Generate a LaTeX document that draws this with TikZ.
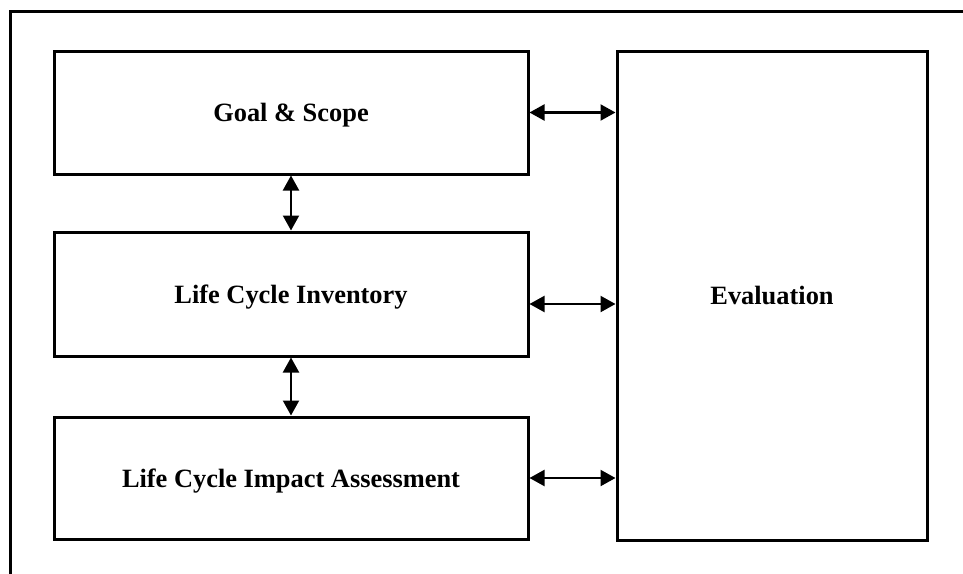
\documentclass[tikz,border=0pt]{standalone}
\usepackage{fontspec}
\setmainfont{Liberation Serif}
\usetikzlibrary{arrows.meta}
\begin{document}
\begin{tikzpicture}[x=0.5pt,y=-0.5pt,
  box/.style={draw=black,line width=1.5pt,minimum width=237pt,font=\fontsize{13.2}{15}\selectfont\bfseries,inner sep=0pt,text depth=0pt},
  link/.style={line width=1.1pt,{Triangle[length=7.5pt,width=8pt]}-{Triangle[length=7.5pt,width=8pt]}}]
\useasboundingbox (0,0) rectangle (963,573);
\clip (0,0) rectangle (963,573);
\draw[line width=1.5pt] (10,580) -- (10,11) -- (970,11);
\node[box,minimum height=61.5pt] (gs) at (291,112.5) {Goal \& Scope};
\node[box,minimum height=62pt] (lci) at (291,294) {Life Cycle Inventory};
\node[box,minimum height=61pt] (lcia) at (291,478) {Life Cycle Impact Assessment};
\node[box,minimum width=155pt,minimum height=244.5pt] (ev) at (772,295.5) {Evaluation};
\draw[link] (gs.south) -- (lci.north);
\draw[link] (lci.south) -- (lcia.north);
\draw[link] (gs.east) -- (gs.east -| ev.west);
\coordinate (lcir) at ([yshift=-5pt]lci.east);
\draw[link] (lcir) -- (lcir -| ev.west);
\draw[link] (lcia.east) -- (lcia.east -| ev.west);
\end{tikzpicture}
\end{document}
